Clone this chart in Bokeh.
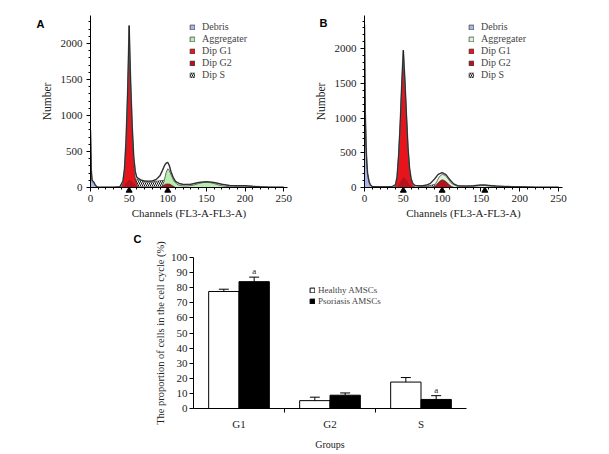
from bokeh.plotting import figure
from bokeh.models import (Legend, LegendItem, Range1d, FixedTicker, SingleIntervalTicker)
from bokeh.layouts import column, row
from bokeh.embed import file_html
from bokeh.resources import INLINE
from bokeh.core.properties import value

SERIF = "Liberation Serif"

# ---------------- Panel A data (channel, count) ----------------
debris_a_x = [0, 0.5, 1, 2, 3, 4, 5, 6, 8, 10]
debris_a_y = [780, 500, 220, 90, 70, 75, 55, 25, 8, 0]
g1_a_x = [38, 40, 42, 44, 46, 48, 49, 50, 51, 52, 54, 56, 58, 60, 62]
g1_a_y = [0, 15, 60, 200, 550, 1150, 1550, 1950, 1700, 1350, 750, 330, 130, 40, 0]
g1base_a_x = [42, 46, 50, 54, 58, 62]
g1base_a_y = [0, 60, 110, 80, 30, 0]
g2_a_x = [90, 94, 97, 100, 103, 106, 110]
g2_a_y = [0, 25, 45, 50, 45, 25, 0]
s_a_x = [48, 52, 56, 60, 65, 70, 75, 80, 85, 90, 95, 100, 104, 108]
s_a_y = [0, 60, 120, 115, 100, 85, 80, 80, 85, 95, 100, 90, 40, 0]
agg_a_x = [92, 95, 98, 100, 102, 105, 108, 112, 116, 120, 125, 130, 135, 140, 145,
           150, 155, 160, 165, 170, 175, 180, 185, 190, 195, 200, 205, 210, 215]
agg_a_y = [0, 80, 210, 260, 235, 160, 90, 45, 28, 22, 22, 28, 38, 55, 68,
           72, 68, 55, 38, 25, 16, 12, 12, 15, 18, 20, 15, 8, 0]
total_a_x = [0, 0.5, 1, 2, 4, 6, 8, 10, 20, 30, 38, 42, 44, 46, 48, 49, 50, 51, 52, 54,
             56, 58, 60, 65, 70, 75, 80, 85, 90, 93, 96, 98, 100, 102, 104, 107, 110, 115,
             120, 130, 140, 150, 160, 170, 180, 190, 200, 210, 220, 230, 240, 250]
total_a_y = [800, 500, 250, 100, 80, 40, 12, 5, 5, 5, 10, 90, 260, 650, 1300, 1750, 2250,
             1850, 1450, 850, 420, 220, 140, 105, 90, 88, 92, 110, 165, 235, 310, 340, 350,
             305, 225, 140, 85, 55, 42, 45, 70, 80, 70, 45, 28, 26, 26, 16, 10, 6, 5, 5]
markers_a = [50, 100]

# ---------------- Panel B data (channel, count) ----------------
debris_b_x = [0, 0.5, 1, 2, 3, 4, 5, 6, 8, 10, 12]
debris_b_y = [1300, 1250, 1000, 600, 350, 200, 120, 70, 30, 10, 0]
g1_b_x = [38, 40, 42, 44, 46, 48, 50, 52, 54, 56, 58, 60, 62, 64, 66]
g1_b_y = [0, 30, 150, 450, 900, 1450, 1790, 1500, 1000, 550, 250, 100, 40, 10, 0]
g1base_b_x = [42, 46, 50, 54, 58, 62]
g1base_b_y = [0, 80, 150, 110, 40, 0]
g2_b_x = [88, 92, 95, 98, 100, 102, 105, 108, 112, 116]
g2_b_y = [0, 30, 70, 100, 110, 105, 85, 50, 15, 0]
s_b_x = [60, 70, 80, 85, 90, 95, 100, 105, 110, 115, 120]
s_b_y = [0, 10, 20, 30, 45, 55, 60, 50, 30, 12, 0]
agg_b_x = [88, 92, 96, 100, 104, 108, 112, 118, 125, 135, 145, 150, 155, 160, 170,
           180, 190, 200, 210]
agg_b_y = [0, 60, 150, 190, 175, 120, 60, 25, 12, 12, 22, 28, 28, 22, 14, 9, 8, 5, 0]
total_b_x = [0, 0.3, 1, 2, 3, 4, 6, 8, 10, 15, 20, 30, 36, 40, 42, 44, 46, 48, 50, 52,
             54, 56, 58, 60, 62, 65, 70, 75, 80, 85, 90, 95, 100, 105, 110, 115, 120, 130,
             140, 150, 155, 160, 170, 180, 190, 200, 210, 220, 230, 240, 250]
total_b_y = [2350, 2000, 1100, 600, 350, 200, 80, 30, 15, 10, 10, 10, 15, 40, 160, 470,
             920, 1500, 1980, 1550, 1050, 580, 280, 130, 60, 30, 25, 25, 35, 60, 120, 190,
             215, 185, 110, 50, 25, 20, 25, 35, 35, 30, 20, 15, 12, 10, 8, 5, 5, 5, 5]
markers_b = [50, 100, 155]

legend_names = ["Debris", "Aggregater", "Dip G1", "Dip G2", "Dip S"]

# ---------------- Panel C data ----------------
groups = ["G1", "G2", "S"]
healthy = [77.5, 5.2, 17.5]
healthy_err = [1.5, 2.3, 3.0]
psoriasis = [84.0, 8.8, 6.0]
psoriasis_err = [3.0, 1.5, 2.5]
psoriasis_sig = ["a", "", "a"]
series_names = ["Healthy AMSCs", "Psoriasis AMSCs"]

C_DEBRIS = "#aab6ea"
C_G1 = "#e8141c"
C_G2 = "#b5121b"
OUTLINE = "#333333"


def area(p, x, y, **kw):
    # closed polygon down to the baseline
    xs = list(x) + [x[-1], x[0]]
    ys = list(y) + [0, 0]
    return p.patch(x=xs, y=ys, **kw)


def histo_panel(w, h, ymax, mb_left, mb_right, mb_top, mb_bottom, data, agg_color,
                marks, mark_y, letter, letter_off, legend_xy, title_standoff):
    p = figure(width=w, height=h, x_range=Range1d(0, 255), y_range=Range1d(0, ymax),
               output_backend="svg", toolbar_location=None,
               min_border_left=mb_left, min_border_right=mb_right,
               min_border_top=mb_top, min_border_bottom=mb_bottom)
    p.outline_line_color = None
    p.grid.visible = False
    p.background_fill_color = "white"
    p.border_fill_color = "white"

    (dx, dy, g1x, g1y, gbx, gby, g2x, g2y, sx, sy, ax, ay, tx, ty) = data
    r_s = area(p, sx, sy, fill_color="white", line_color=OUTLINE, line_width=0.7,
               hatch_pattern="\\", hatch_color="#111111", hatch_scale=4, hatch_weight=1)
    r_agg = area(p, ax, ay, fill_color=agg_color, line_color=OUTLINE, line_width=0.7)
    r_g1 = area(p, g1x, g1y, fill_color=C_G1, line_color=OUTLINE, line_width=0.7)
    area(p, gbx, gby, fill_color=C_G2, line_color=None)
    r_g2 = area(p, g2x, g2y, fill_color=C_G2, line_color=OUTLINE, line_width=0.7)
    r_d = area(p, dx, dy, fill_color=C_DEBRIS, line_color=OUTLINE, line_width=0.7)
    p.line(x=tx, y=ty, line_color="#666666", line_width=1.5)
    p.line(x=tx, y=ty, line_color="#111111", line_width=0.7)
    p.scatter(x=marks, y=[mark_y] * len(marks), marker="triangle", size=6,
              fill_color="black", line_color="black", level="overlay")

    items = [LegendItem(label=n, renderers=[r]) for n, r in
             zip(legend_names, [r_d, r_agg, r_g1, r_g2, r_s])]
    leg = Legend(items=items, location=legend_xy, glyph_width=6, glyph_height=6,
                 label_height=10, spacing=1, padding=0, margin=0, label_standoff=7,
                 border_line_color=None, background_fill_alpha=0,
                 label_text_font=SERIF, label_text_font_size="10px")
    p.add_layout(leg)

    p.xaxis.ticker = SingleIntervalTicker(interval=50, num_minor_ticks=5)
    p.yaxis.ticker = SingleIntervalTicker(interval=500, num_minor_ticks=5)
    p.xaxis.axis_label = "Channels (FL3-A-FL3-A)"
    p.yaxis.axis_label = "Number"
    for ax_ in (p.xaxis, p.yaxis):
        ax_.axis_line_color = "black"
        ax_.major_tick_line_color = "black"
        ax_.minor_tick_line_color = "black"
        ax_.major_tick_in = 0
        ax_.major_tick_out = 4
        ax_.minor_tick_in = 0
        ax_.minor_tick_out = 2
        ax_.major_label_text_font = SERIF
        ax_.major_label_text_font_size = "11px"
        ax_.major_label_text_color = "#222222"
        ax_.axis_label_text_font = SERIF
        ax_.axis_label_text_font_style = "normal"
        ax_.axis_label_text_color = "#222222"
    p.xaxis.major_label_standoff = 3
    p.yaxis.major_label_standoff = 4
    p.xaxis.axis_label_text_font_size = "11px"
    p.yaxis.axis_label_text_font_size = "11.5px"
    p.xaxis.axis_label_standoff = 2
    p.yaxis.axis_label_standoff = title_standoff

    p.text(x=[0], y=[ymax], text=[letter], x_offset=letter_off[0], y_offset=letter_off[1],
           text_font=value("Liberation Sans"), text_font_style="bold", text_font_size="11px",
           text_align="center", text_baseline="middle", text_color="black", level="overlay")
    return p


pA = histo_panel(300, 224, 2390, 90, 13, 14, 37,
                 (debris_a_x, debris_a_y, g1_a_x, g1_a_y, g1base_a_x, g1base_a_y,
                  g2_a_x, g2_a_y, s_a_x, s_a_y, agg_a_x, agg_a_y, total_a_x, total_a_y),
                 "#b9eeb1", markers_a, -41, "A", (-50, 8), (99, 107), 5)
pB = histo_panel(301, 224, 2480, 64, 39, 15, 37,
                 (debris_b_x, debris_b_y, g1_b_x, g1_b_y, g1base_b_x, g1base_b_y,
                  g2_b_x, g2_b_y, s_b_x, s_b_y, agg_b_x, agg_b_y, total_b_x, total_b_y),
                 "#dcf5d6", markers_b, -43, "B", (-41, 7), (104, 107), 5)

# ---------------- Panel C ----------------
pC = figure(width=601, height=228, x_range=Range1d(0, 3), y_range=Range1d(0, 100),
            output_backend="svg", toolbar_location=None,
            min_border_left=193, min_border_right=135, min_border_top=33, min_border_bottom=44)
pC.outline_line_color = None
pC.grid.visible = False

centers = [i + 0.5 for i in range(len(groups))]
hx = [c - 1 / 6 for c in centers]
px = [c + 1 / 6 for c in centers]
rh = pC.vbar(x=hx, top=healthy, width=1 / 3, fill_color="white", line_color="black", line_width=1)
rp = pC.vbar(x=px, top=psoriasis, width=1 / 3, fill_color="black", line_color="black", line_width=1)

h_top = [v + e for v, e in zip(healthy, healthy_err)]
p_top = [v + e for v, e in zip(psoriasis, psoriasis_err)]
cap = 0.055
pC.segment(x0=hx, y0=healthy, x1=hx, y1=h_top, line_color="black", line_width=1)
pC.segment(x0=[x - cap for x in hx], y0=h_top, x1=[x + cap for x in hx], y1=h_top,
           line_color="black", line_width=1)
pC.segment(x0=px, y0=psoriasis, x1=px, y1=p_top, line_color="black", line_width=1)
pC.segment(x0=[x - cap for x in px], y0=p_top, x1=[x + cap for x in px], y1=p_top,
           line_color="black", line_width=1)
sig_x = [x for x, s in zip(px, psoriasis_sig) if s]
sig_y = [t for t, s in zip(p_top, psoriasis_sig) if s]
sig_t = [s for s in psoriasis_sig if s]
pC.text(x=sig_x, y=sig_y, text=sig_t, text_font=value(SERIF), text_font_size="9px",
        text_align="center", text_baseline="bottom", y_offset=-1, text_color="#222222")

for name, rend, loc in zip(series_names, [rh, rp], [(116, 113), (116, 102)]):
    lg = Legend(items=[LegendItem(label=name, renderers=[rend])],
                location=loc, glyph_width=6, glyph_height=6, label_height=8,
                spacing=0, padding=0, margin=0, label_standoff=3,
                border_line_color=None, background_fill_alpha=0,
                label_text_font=SERIF, label_text_font_size="9px")
    pC.add_layout(lg)

pC.xaxis.ticker = FixedTicker(ticks=centers, minor_ticks=[1, 2])
pC.xaxis.major_label_overrides = {c: g for c, g in zip(centers, groups)}
pC.yaxis.ticker = SingleIntervalTicker(interval=10, num_minor_ticks=0)
pC.xaxis.axis_label = "Groups"
pC.yaxis.axis_label = "The proportion of cells in the cell cycle (%)"
for ax_ in (pC.xaxis, pC.yaxis):
    ax_.axis_line_color = "black"
    ax_.major_tick_line_color = "black"
    ax_.minor_tick_line_color = "black"
    ax_.major_tick_in = 0
    ax_.minor_tick_in = 0
    ax_.major_label_text_font = SERIF
    ax_.major_label_text_font_size = "11px"
    ax_.major_label_text_color = "#222222"
    ax_.axis_label_text_font = SERIF
    ax_.axis_label_text_font_style = "normal"
    ax_.axis_label_text_color = "#222222"
pC.xaxis.major_tick_out = 0
pC.xaxis.minor_tick_out = 4
pC.yaxis.major_tick_out = 4
pC.yaxis.major_label_standoff = 2
pC.xaxis.major_label_standoff = 5
pC.xaxis.axis_label_text_font_size = "10px"
pC.yaxis.axis_label_text_font_size = "10.5px"
pC.xaxis.axis_label_standoff = 6
pC.yaxis.axis_label_standoff = 2
pC.text(x=[0], y=[100], text=["C"], x_offset=-56, y_offset=-19,
        text_font=value("Liberation Sans"), text_font_style="bold", text_font_size="11px",
        text_align="center", text_baseline="middle", text_color="black", level="overlay")

layout = column(row(pA, pB), pC)
open("out.html", "w").write(file_html(layout, INLINE))
